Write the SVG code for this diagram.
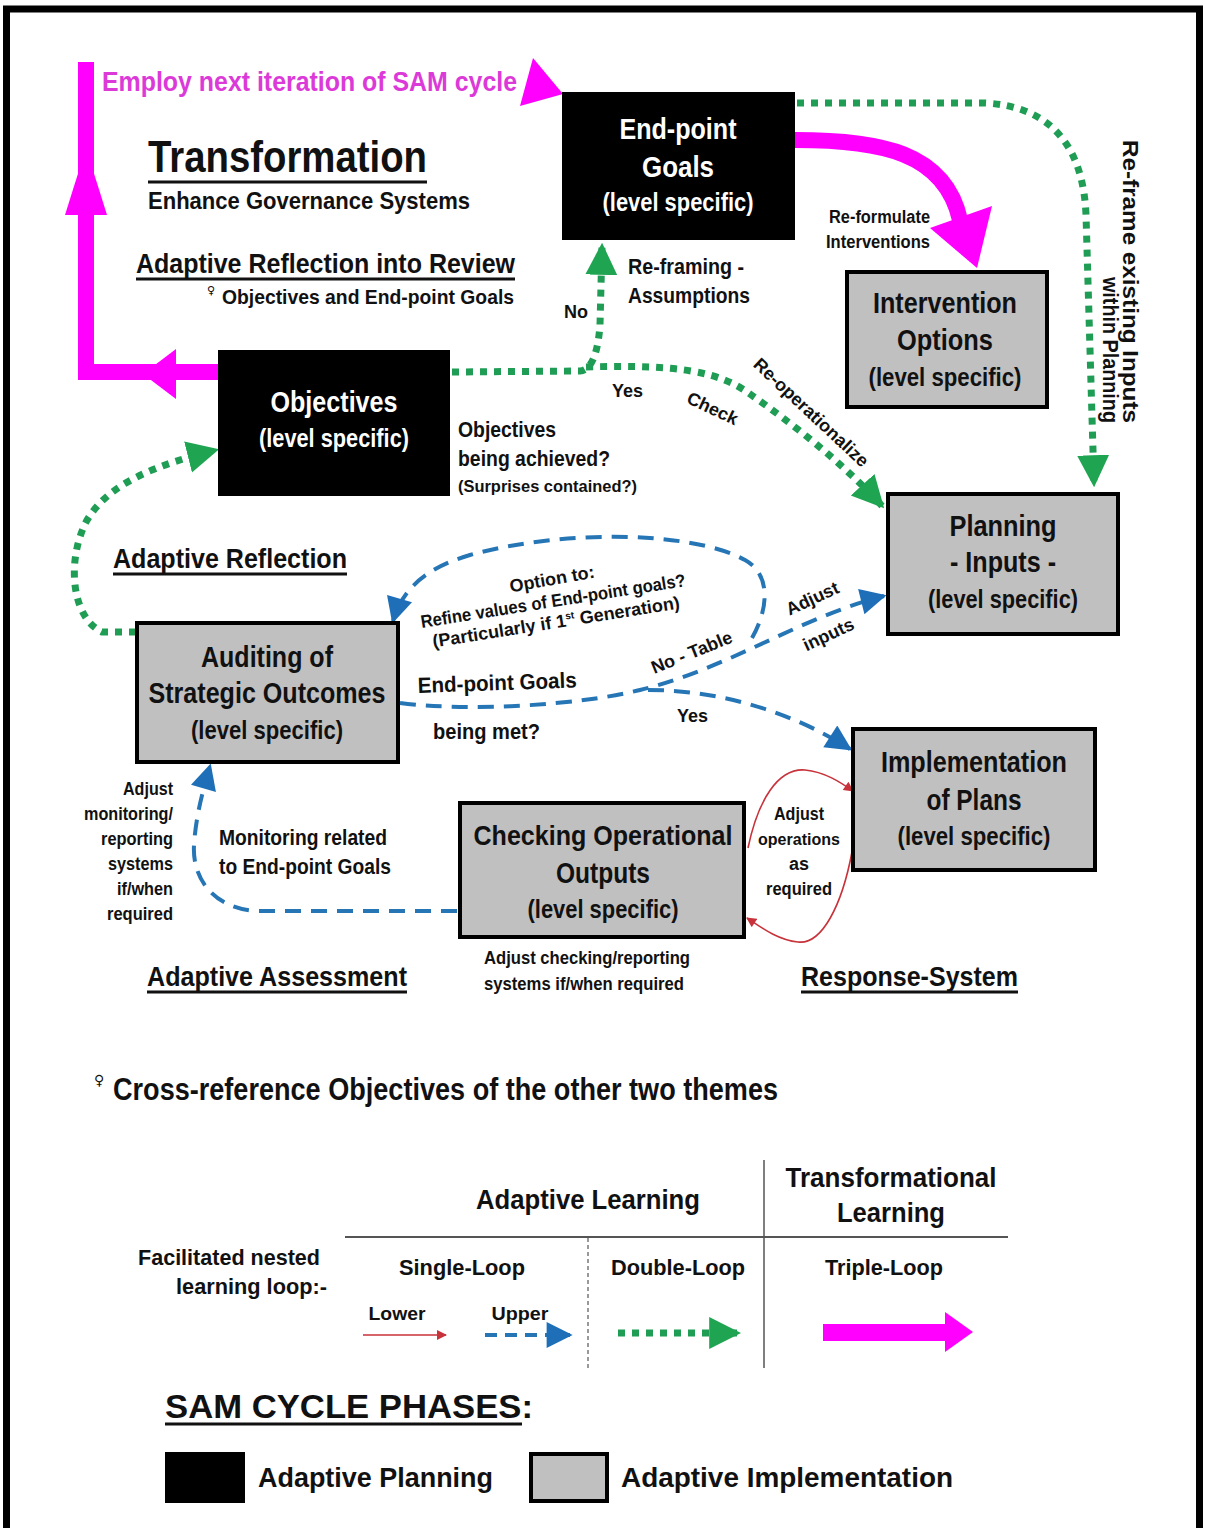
<svg xmlns="http://www.w3.org/2000/svg" width="1205" height="1528" viewBox="0 0 1205 1528">
  <defs>
    <style>
      text { font-family: "Liberation Sans", Arial, sans-serif; font-weight: bold; fill: #111; }
      .node-t { font-size: 29px; text-anchor: middle; }
      .node-s { font-size: 25px; text-anchor: middle; }
      .white { fill: #fff; }
      .plan { fill: #000; }
      .impl { fill: #c0c0c0; stroke: #000; stroke-width: 4; }
      .lbl18 { font-size: 18px; }
      .lbl22 { font-size: 22px; }
      .head { font-size: 28px; }
      .mid { text-anchor: middle; }
      .end { text-anchor: end; }
      .uline { stroke: #111; stroke-width: 3; }
      .dbl { fill: none; stroke: #1f9d55; stroke-width: 7; stroke-dasharray: 7 7; }
      .sgl { fill: none; stroke: #2676b6; stroke-width: 4; stroke-dasharray: 16 10; }
      .low { fill: none; stroke: #c8323a; stroke-width: 1.6; }
      .tri { fill: none; stroke: #ff00ff; stroke-width: 16; }
      .magenta { fill: #ff00ff; }
    </style>
    <marker id="ah-green" viewBox="0 0 10 10" refX="9" refY="5" markerWidth="32" markerHeight="34" markerUnits="userSpaceOnUse" orient="auto">
      <path d="M0,0 L10,5 L0,10 Z" fill="#1fa552"/>
    </marker>
    <marker id="ah-blue" viewBox="0 0 10 10" refX="9" refY="5" markerWidth="28" markerHeight="26" markerUnits="userSpaceOnUse" orient="auto">
      <path d="M0,0 L10,5 L0,10 Z" fill="#1f6fb8"/>
    </marker>
    <marker id="ah-red" viewBox="0 0 10 10" refX="9" refY="5" markerWidth="11" markerHeight="10" markerUnits="userSpaceOnUse" orient="auto">
      <path d="M0,0 L10,5 L0,10 Z" fill="#c8323a"/>
    </marker>
  </defs>

  <!-- page frame -->
  <rect x="6.5" y="9" width="1193" height="1545" fill="#fff" stroke="#000" stroke-width="7"/>

  <!-- connectors -->
  <g id="connectors">
    <!-- triple loop: objectives back to next cycle -->
    <path class="tri" d="M220,372 L86,372 L86,62"/>
    <polygon class="magenta" points="143,374 176,349 176,399"/>
    <polygon class="magenta" points="86,148 65,215 107,215"/>
    <polygon class="magenta" points="533,58 563,94 520,106"/>
    <!-- triple loop: end-point goals to intervention options -->
    <path class="tri" d="M795,140 C880,140 945,152 960,220"/>
    <polygon class="magenta" points="930,228 992,206 977,268"/>

    <!-- double loop -->
    <path class="dbl" d="M797,103 L985,103 C1045,106 1083,140 1086,215 L1094,484" marker-end="url(#ah-green)"/>
    <path class="dbl" d="M452,372 L580,371 C592,370 598,352 600,325 L602,246" marker-end="url(#ah-green)"/>
    <path class="dbl" d="M586,367 C680,364 720,372 750,394 C790,422 842,462 882,506" marker-end="url(#ah-green)"/>
    <path class="dbl" d="M136,632 L102,632 C72,618 66,562 86,522 C108,482 160,464 216,450" marker-end="url(#ah-green)"/>

    <!-- single loop upper -->
    <path class="sgl" d="M400,703 C470,712 580,705 640,690 C730,668 800,617 884,596" marker-end="url(#ah-blue)"/>
    <path class="sgl" d="M648,690 C720,690 792,712 850,749" marker-end="url(#ah-blue)"/>
    <path class="sgl" d="M752,638 C768,610 772,575 745,560 C690,530 560,530 470,555 C425,568 402,590 393,621" marker-end="url(#ah-blue)"/>
    <path class="sgl" d="M457,911 L255,911 C215,908 192,880 194,845 C196,815 203,790 210,766" marker-end="url(#ah-blue)"/>

    <!-- single loop lower -->
    <path class="low" d="M748,848 C758,800 778,768 805,770 C825,772 840,782 853,791" marker-end="url(#ah-red)"/>
    <path class="low" d="M852,852 C842,905 822,945 798,942 C778,940 762,928 747,918" marker-end="url(#ah-red)"/>
  </g>

  <!-- nodes -->
  <g id="node-endpoint-goals">
    <rect class="plan" x="562" y="92" width="233" height="148"/>
    <text class="node-t white" x="678" y="139" textLength="117" lengthAdjust="spacingAndGlyphs">End-point</text>
    <text class="node-t white" x="678" y="177" textLength="72" lengthAdjust="spacingAndGlyphs">Goals</text>
    <text class="node-s white" x="678" y="211" textLength="151" lengthAdjust="spacingAndGlyphs">(level specific)</text>
  </g>
  <g id="node-objectives">
    <rect class="plan" x="218" y="350" width="232" height="146"/>
    <text class="node-t white" x="334" y="412" textLength="127" lengthAdjust="spacingAndGlyphs">Objectives</text>
    <text class="node-s white" x="334" y="447" textLength="150" lengthAdjust="spacingAndGlyphs">(level specific)</text>
  </g>
  <g id="node-intervention-options">
    <rect class="impl" x="847" y="272" width="200" height="135"/>
    <text class="node-t" x="945" y="313" textLength="144" lengthAdjust="spacingAndGlyphs">Intervention</text>
    <text class="node-t" x="945" y="350" textLength="96" lengthAdjust="spacingAndGlyphs">Options</text>
    <text class="node-s" x="945" y="386" textLength="153" lengthAdjust="spacingAndGlyphs">(level specific)</text>
  </g>
  <g id="node-planning-inputs">
    <rect class="impl" x="888" y="494" width="230" height="140"/>
    <text class="node-t" x="1003" y="536" textLength="107" lengthAdjust="spacingAndGlyphs">Planning</text>
    <text class="node-t" x="1003" y="572" textLength="106" lengthAdjust="spacingAndGlyphs">- Inputs -</text>
    <text class="node-s" x="1003" y="608" textLength="150" lengthAdjust="spacingAndGlyphs">(level specific)</text>
  </g>
  <g id="node-auditing">
    <rect class="impl" x="137" y="623" width="261" height="139"/>
    <text class="node-t" x="267" y="667" textLength="132" lengthAdjust="spacingAndGlyphs">Auditing of</text>
    <text class="node-t" x="267" y="703" textLength="237" lengthAdjust="spacingAndGlyphs">Strategic Outcomes</text>
    <text class="node-s" x="267" y="739" textLength="152" lengthAdjust="spacingAndGlyphs">(level specific)</text>
  </g>
  <g id="node-implementation">
    <rect class="impl" x="853" y="729" width="242" height="141"/>
    <text class="node-t" x="974" y="772" textLength="186" lengthAdjust="spacingAndGlyphs">Implementation</text>
    <text class="node-t" x="974" y="810" textLength="95" lengthAdjust="spacingAndGlyphs">of Plans</text>
    <text class="node-s" x="974" y="845" textLength="153" lengthAdjust="spacingAndGlyphs">(level specific)</text>
  </g>
  <g id="node-checking">
    <rect class="impl" x="460" y="803" width="284" height="134"/>
    <text class="node-t" x="603" y="845" style="font-size:27px" textLength="259" lengthAdjust="spacingAndGlyphs">Checking Operational</text>
    <text class="node-t" x="603" y="883" textLength="94" lengthAdjust="spacingAndGlyphs">Outputs</text>
    <text class="node-s" x="603" y="918" textLength="151" lengthAdjust="spacingAndGlyphs">(level specific)</text>
  </g>

  <!-- headings and connector labels -->
  <g id="labels">
    <text x="102" y="91" style="font-size:28px;fill:#dc3ad8" textLength="415" lengthAdjust="spacingAndGlyphs">Employ next iteration of SAM cycle</text>

    <text x="148" y="172" style="font-size:44px" textLength="279" lengthAdjust="spacingAndGlyphs">Transformation</text>
    <line class="uline" x1="148" y1="182" x2="427" y2="182"/>
    <text x="148" y="209" style="font-size:24px" textLength="322" lengthAdjust="spacingAndGlyphs">Enhance Governance Systems</text>

    <text class="head" x="136" y="273" textLength="379" lengthAdjust="spacingAndGlyphs">Adaptive Reflection into Review</text>
    <line class="uline" x1="136" y1="279" x2="515" y2="279"/>
    <text x="207" y="294" style="font-size:11px;font-family:'DejaVu Sans',sans-serif">♀</text>
    <text x="222" y="304" style="font-size:21px" textLength="292" lengthAdjust="spacingAndGlyphs">Objectives and End-point Goals</text>

    <text class="lbl18" x="564" y="318">No</text>
    <text class="lbl22" x="628" y="274" textLength="116" lengthAdjust="spacingAndGlyphs">Re-framing -</text>
    <text class="lbl22" x="628" y="303" textLength="122" lengthAdjust="spacingAndGlyphs">Assumptions</text>

    <text class="lbl18 end" x="930" y="223" textLength="101" lengthAdjust="spacingAndGlyphs">Re-formulate</text>
    <text class="lbl18 end" x="930" y="248" textLength="104" lengthAdjust="spacingAndGlyphs">Interventions</text>

    <text transform="translate(1123,423) rotate(90)" class="end" style="font-size:22px" textLength="283" lengthAdjust="spacingAndGlyphs">Re-frame existing Inputs</text>
    <text transform="translate(1103,423) rotate(90)" class="end" style="font-size:22px" textLength="146" lengthAdjust="spacingAndGlyphs">within Planning</text>

    <text class="lbl18" x="612" y="397">Yes</text>
    <text class="lbl18 mid" transform="translate(710,414) rotate(25)">Check</text>
    <text class="lbl18 mid" transform="translate(807,417) rotate(43)" textLength="150" lengthAdjust="spacingAndGlyphs">Re-operationalize</text>

    <text class="lbl22" x="458" y="437" textLength="98" lengthAdjust="spacingAndGlyphs">Objectives</text>
    <text class="lbl22" x="458" y="466" textLength="152" lengthAdjust="spacingAndGlyphs">being achieved?</text>
    <text x="458" y="492" style="font-size:17px" textLength="179" lengthAdjust="spacingAndGlyphs">(Surprises contained?)</text>

    <text class="head" x="113" y="568" textLength="234" lengthAdjust="spacingAndGlyphs">Adaptive Reflection</text>
    <line class="uline" x1="113" y1="574" x2="347" y2="574"/>

    <text class="lbl18 mid" transform="translate(553,585) rotate(-10)">Option to:</text>
    <text class="lbl18 mid" transform="translate(554,607) rotate(-9)" textLength="268" lengthAdjust="spacingAndGlyphs">Refine values of End-point goals?</text>
    <text class="lbl18 mid" transform="translate(557,628) rotate(-9)">(Particularly if 1<tspan style="font-size:10px" dy="-7">st</tspan><tspan dy="7"> Generation)</tspan></text>

    <text class="lbl18 mid" transform="translate(815,604) rotate(-25)">Adjust</text>
    <text class="lbl18 mid" transform="translate(831,640) rotate(-25)">inputs</text>
    <text class="lbl18 mid" transform="translate(694,658) rotate(-22)">No - Table</text>

    <text class="lbl22" transform="translate(418,693) rotate(-2)" textLength="159" lengthAdjust="spacingAndGlyphs">End-point  Goals</text>
    <text class="lbl22" x="433" y="739" textLength="107" lengthAdjust="spacingAndGlyphs">being  met?</text>
    <text class="lbl18" x="677" y="722">Yes</text>

    <text class="lbl18 end" x="173" y="795" textLength="50" lengthAdjust="spacingAndGlyphs">Adjust</text>
    <text class="lbl18 end" x="173" y="820" textLength="89" lengthAdjust="spacingAndGlyphs">monitoring/</text>
    <text class="lbl18 end" x="173" y="845" textLength="72" lengthAdjust="spacingAndGlyphs">reporting</text>
    <text class="lbl18 end" x="173" y="870" textLength="65" lengthAdjust="spacingAndGlyphs">systems</text>
    <text class="lbl18 end" x="173" y="895" textLength="56" lengthAdjust="spacingAndGlyphs">if/when</text>
    <text class="lbl18 end" x="173" y="920" textLength="66" lengthAdjust="spacingAndGlyphs">required</text>

    <text class="lbl22" x="219" y="845" textLength="168" lengthAdjust="spacingAndGlyphs">Monitoring related</text>
    <text class="lbl22" x="219" y="874" textLength="172" lengthAdjust="spacingAndGlyphs">to End-point Goals</text>

    <text class="lbl18 mid" x="799" y="820" textLength="50" lengthAdjust="spacingAndGlyphs">Adjust</text>
    <text class="lbl18 mid" x="799" y="845" style="font-size:17px" textLength="82" lengthAdjust="spacingAndGlyphs">operations</text>
    <text class="lbl18 mid" x="799" y="870">as</text>
    <text class="lbl18 mid" x="799" y="895" textLength="66" lengthAdjust="spacingAndGlyphs">required</text>

    <text class="head" x="147" y="986" textLength="260" lengthAdjust="spacingAndGlyphs">Adaptive Assessment</text>
    <line class="uline" x1="147" y1="992" x2="407" y2="992"/>
    <text class="lbl18" x="484" y="964" textLength="206" lengthAdjust="spacingAndGlyphs">Adjust checking/reporting</text>
    <text class="lbl18" x="484" y="990" textLength="200" lengthAdjust="spacingAndGlyphs">systems if/when required</text>
    <text class="head" x="801" y="986" textLength="217" lengthAdjust="spacingAndGlyphs">Response-System</text>
    <line class="uline" x1="801" y1="992" x2="1018" y2="992"/>

    <text x="94" y="1085" style="font-size:14px;font-family:'DejaVu Sans',sans-serif">♀</text>
    <text x="113" y="1100" style="font-size:31px" textLength="665" lengthAdjust="spacingAndGlyphs">Cross-reference Objectives of the other two themes</text>
  </g>

  <!-- learning loop key -->
  <g id="loop-key">
    <line x1="345" y1="1237" x2="1008" y2="1237" stroke="#555" stroke-width="2"/>
    <line x1="764" y1="1160" x2="764" y2="1368" stroke="#555" stroke-width="1.5"/>
    <line x1="588" y1="1238" x2="588" y2="1368" stroke="#555" stroke-width="1.2" stroke-dasharray="4 3"/>
    <text x="588" y="1209" class="mid" style="font-size:27px" textLength="224" lengthAdjust="spacingAndGlyphs">Adaptive Learning</text>
    <text x="891" y="1187" class="mid" style="font-size:27px" textLength="211" lengthAdjust="spacingAndGlyphs">Transformational</text>
    <text x="891" y="1222" class="mid" style="font-size:27px" textLength="108" lengthAdjust="spacingAndGlyphs">Learning</text>
    <text x="320" y="1265" class="lbl22 end" textLength="182" lengthAdjust="spacingAndGlyphs">Facilitated nested</text>
    <text x="327" y="1294" class="lbl22 end" textLength="151" lengthAdjust="spacingAndGlyphs">learning loop:-</text>
    <text x="462" y="1275" class="lbl22 mid" textLength="126" lengthAdjust="spacingAndGlyphs">Single-Loop</text>
    <text x="678" y="1275" class="lbl22 mid" textLength="134" lengthAdjust="spacingAndGlyphs">Double-Loop</text>
    <text x="884" y="1275" class="lbl22 mid" textLength="118" lengthAdjust="spacingAndGlyphs">Triple-Loop</text>
    <text x="397" y="1320" class="mid" style="font-size:19px" textLength="57" lengthAdjust="spacingAndGlyphs">Lower</text>
    <text x="520" y="1320" class="mid" style="font-size:19px" textLength="57" lengthAdjust="spacingAndGlyphs">Upper</text>
    <path class="low" d="M363,1335 L446,1335" marker-end="url(#ah-red)"/>
    <path class="sgl" d="M485,1335 L570,1335" style="stroke-dasharray:12 8" marker-end="url(#ah-blue)"/>
    <path class="dbl" d="M618,1333 L738,1333" marker-end="url(#ah-green)"/>
    <rect class="magenta" x="823" y="1324" width="124" height="17"/>
    <polygon class="magenta" points="945,1312 973,1332 945,1352"/>
  </g>

  <!-- phase key -->
  <g id="phase-key">
    <text x="165" y="1418" style="font-size:34px" textLength="368" lengthAdjust="spacingAndGlyphs">SAM CYCLE PHASES:</text>
    <line class="uline" x1="165" y1="1424" x2="522" y2="1424"/>
    <rect class="plan" x="165" y="1452" width="80" height="51"/>
    <text x="258" y="1487" style="font-size:28px" textLength="235" lengthAdjust="spacingAndGlyphs">Adaptive Planning</text>
    <rect class="impl" x="531" y="1454" width="76" height="47"/>
    <text x="621" y="1487" style="font-size:28px" textLength="332" lengthAdjust="spacingAndGlyphs">Adaptive Implementation</text>
  </g>
</svg>
